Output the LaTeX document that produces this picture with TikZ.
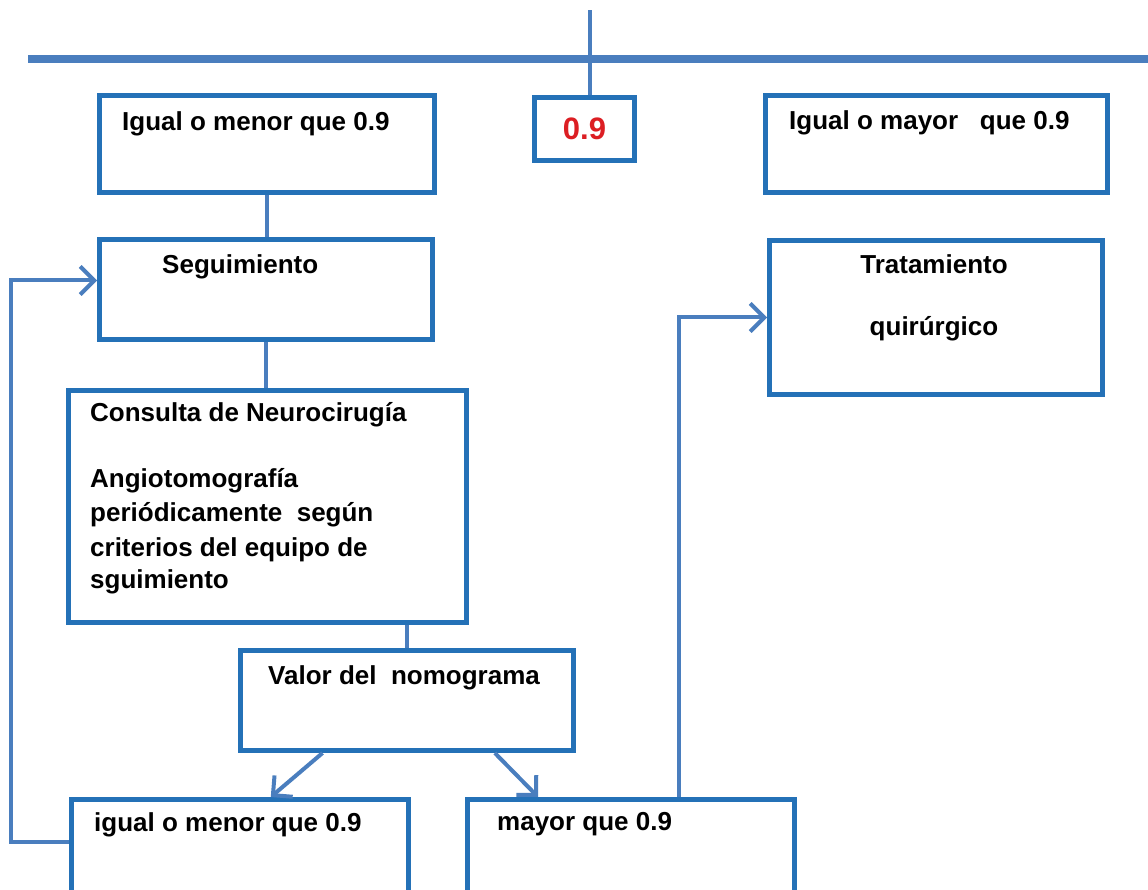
\documentclass[tikz,border=0pt]{standalone}
\usepackage{fontspec}
\setmainfont{Liberation Sans}
\usetikzlibrary{arrows.meta,calc}
\definecolor{boxblue}{RGB}{36,113,183}
\definecolor{lineblue}{RGB}{74,126,190}
\definecolor{numred}{RGB}{220,30,35}
\begin{document}
\begin{tikzpicture}[x=1pt,y=-1pt,
  boxst/.style={draw=boxblue, line width=5pt, fill=white, rectangle, anchor=north west, inner sep=0pt},
  txt/.style={font=\fontsize{26}{30}\selectfont\bfseries, inner sep=0pt, anchor=west, text=black},
  conn/.style={draw=lineblue, line width=4pt},
  arr/.style={conn, -{Straight Barb[length=14pt,width=28pt]}}]
\useasboundingbox (0,0) rectangle (1148,890);
\clip (0,0) rectangle (1148,890);
\fill[white] (0,0) rectangle (1148,890);

% top line
\coordinate (hl) at (28,59);
\coordinate (hr) at (1150,59);
\draw[draw=lineblue, line width=8pt] (hl) -- (hr);

% boxes
\node[boxst, minimum width=335pt, minimum height=97pt] (b1) at (97,93) {};
\node[boxst, minimum width=100pt, minimum height=63pt] (b0) at (532,95) {};
\node[boxst, minimum width=342pt, minimum height=97pt] (b2) at (763,93) {};
\node[boxst, minimum width=333pt, minimum height=100pt] (seg) at (97,237) {};
\node[boxst, minimum width=333pt, minimum height=154pt] (trat) at (767,238) {};
\node[boxst, minimum width=398pt, minimum height=232pt] (cons) at (66,388) {};
\node[boxst, minimum width=333pt, minimum height=100pt] (valor) at (238,648) {};
\node[boxst, minimum width=337pt, minimum height=130pt] (ig) at (69,797) {};
\node[boxst, minimum width=327pt, minimum height=130pt] (may) at (465,797) {};

% vertical line from top into 0.9 box
\coordinate (vtop) at ($(b0.north)+(5,-85)$);
\draw[conn] ($(b0.north)+(5,0)$) -- (vtop);

% texts
\node[txt] (t1) at (122,124) {Igual o menor que 0.9};
\node[txt, anchor=center, text=numred, font=\fontsize{31}{34}\selectfont\bfseries] (t0) at (b0.center) {0.9};
\node[txt] (t2) at (789,123) {Igual o mayor\ \ \ que 0.9};
\node[txt] (t3) at (162,267) {Seguimiento};
\node[txt, anchor=center] (t4a) at (934,264) {Tratamiento};
\node[txt, anchor=center] (t4b) at (934,329) {quirúrgico};
\node[txt] (t5a) at (90,415) {Consulta de Neurocirugía};
\node[txt] (t5b) at (90,481) {Angiotomografía};
\node[txt] (t5c) at (90,515) {periódicamente\ \ según};
\node[txt] (t5d) at (90,550) {criterios del equipo de};
\node[txt] (t5e) at (90,582) {sguimiento};
\node[txt] (t6) at (268,678) {Valor del\ \ nomograma};
\node[txt] (t7) at (94,825) {igual o menor que 0.9};
\node[txt] (t8) at (497,824) {mayor que 0.9};

% connectors
\draw[conn] (b1.south) -- (b1.south |- seg.north);
\draw[conn] (seg.south) -- (seg.south |- cons.north);
\draw[conn] (valor.north |- cons.south) -- (valor.north);
\draw[conn] ($(b2.south west)+(153,0)$) -- ($(b2.south west)+(153,0)$ |- trat.north);
\draw[arr] ($(valor.south west)!0.25!(valor.south east)$) -- ($(ig.north west)!0.59!(ig.north east)$);
\draw[arr] ($(valor.south west)!0.76!(valor.south east)$) -- ($(may.north west)!0.22!(may.north east)$);
\draw[arr] ($(ig.north west)+(0,45)$) -- ++(-58,0) |- ($(seg.west)+(0,-9)$);
\draw[arr] ($(may.north west)!0.646!(may.north east)$) |- (trat.west);
\end{tikzpicture}
\end{document}
